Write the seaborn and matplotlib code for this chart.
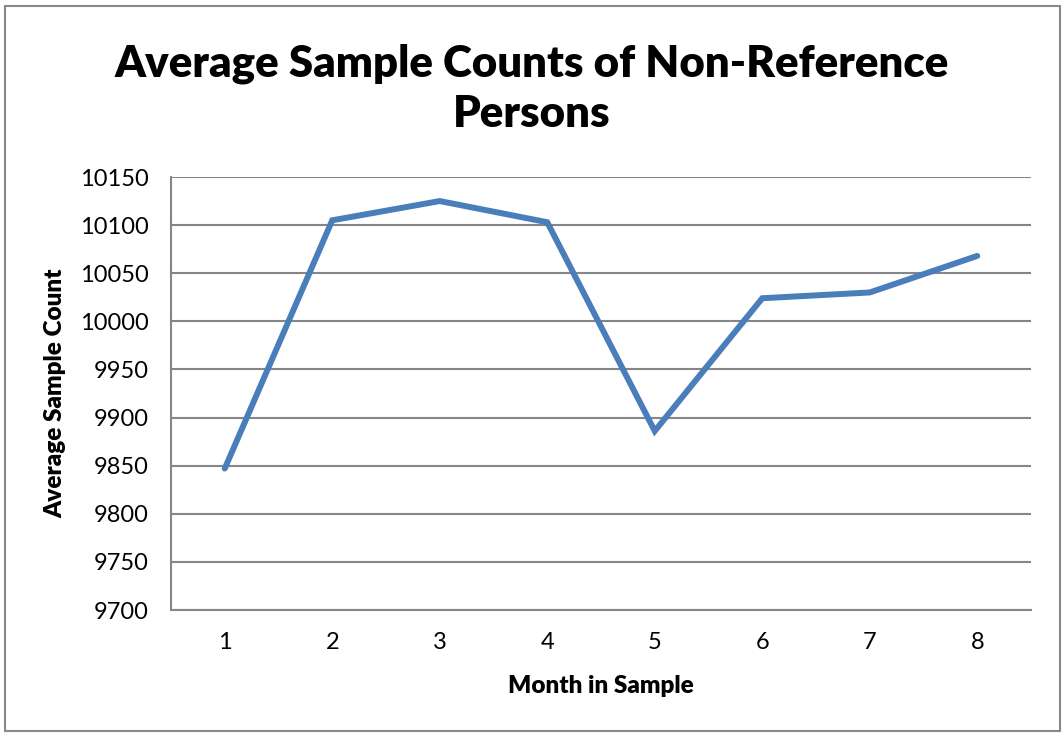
import matplotlib
matplotlib.use("Agg")
import matplotlib.pyplot as plt
import seaborn as sns
import pandas as pd
from matplotlib.patches import Rectangle

months = [1, 2, 3, 4, 5, 6, 7, 8]
avg_counts = [9847, 10105, 10125, 10103, 9886, 10024, 10030, 10068]
y_ticks = [9700, 9750, 9800, 9850, 9900, 9950, 10000, 10050, 10100, 10150]

df = pd.DataFrame({"month": months, "count": avg_counts})

sns.set_style("white")
plt.rcParams["font.family"] = ["Lato", "DejaVu Sans"]
plt.rcParams["text.color"] = "black"

W, H = 1062, 733
fig = plt.figure(figsize=(W / 100, H / 100), dpi=100)
fig.patches.append(Rectangle((5 / W, 2 / H), 1055 / W, 725 / H, transform=fig.transFigure,
                             fill=False, edgecolor="#888888", linewidth=1.5))

ax = fig.add_axes([171 / W, (H - 610) / H, 860 / W, 433 / H])
sns.lineplot(data=df, x="month", y="count", ax=ax, color="#4A7EBB", linewidth=4.3,
             solid_capstyle="round", solid_joinstyle="miter")

ax.set_xlim(0.5, 8.5)
ax.set_ylim(9700, 10150)
ax.set_yticks(y_ticks)
ax.set_xticks(months)
ax.set_xticks([m + 0.5 for m in [0] + months], minor=True)
ax.tick_params(axis="x", which="major", length=0, pad=16, labelsize=17, labelcolor="black")
ax.tick_params(axis="x", which="minor", length=7, width=1.5, color="#868686", direction="out")
ax.tick_params(axis="y", length=7, width=1.5, color="#868686", direction="out", labelsize=17,
               pad=9, labelcolor="black")
ax.yaxis.grid(True, color="#868686", linewidth=1.5)
ax.set_axisbelow(True)
for s in ["top", "right"]:
    ax.spines[s].set_visible(False)
for s in ["left", "bottom"]:
    ax.spines[s].set_color("#868686")
    ax.spines[s].set_linewidth(1.5)

ax.set_xlabel("Month in Sample", fontsize=17.5, fontweight="heavy", labelpad=16, color="black")
ax.set_ylabel("Average Sample Count", fontsize=17.5, fontweight="heavy", labelpad=10, color="black")
fig.text(532 / W, 1 - 89 / H, "Average Sample Counts of Non-Reference\nPersons",
         ha="center", va="center", fontsize=31.5, fontweight="heavy", linespacing=1.3,
         color="black")

fig.savefig("out.png", dpi=100)
